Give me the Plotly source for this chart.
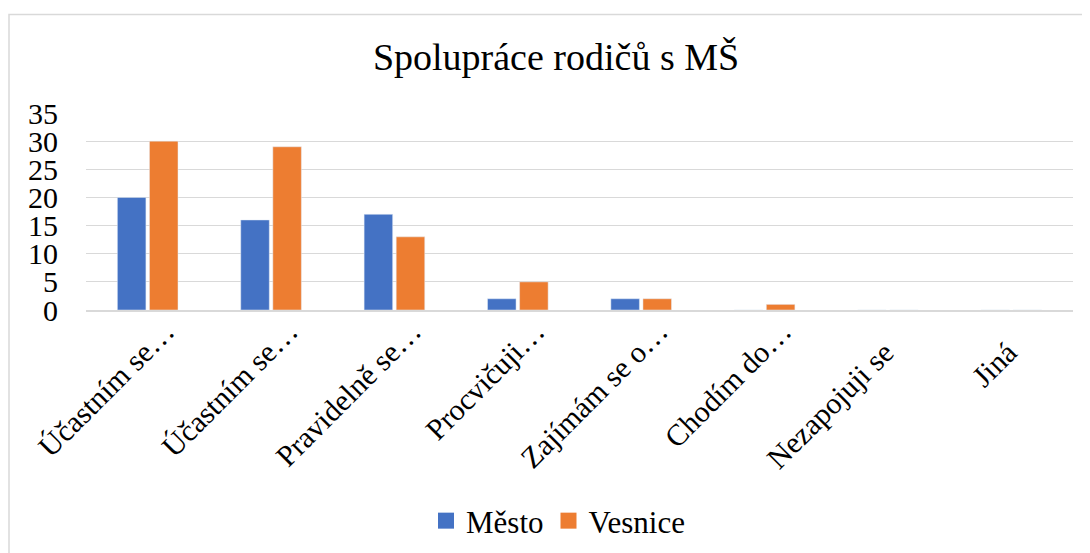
import plotly.graph_objects as go

categories = ["Účastním se…", "Účastním se…", "Pravidelně se…", "Procvičuji…",
              "Zajímám se o…", "Chodím do…", "Nezapojuji se", "Jiná"]
mesto = [20, 16, 17, 2, 2, 0, 0, 0]
vesnice = [30, 29, 13, 5, 2, 1, 0, 0]
y_ticks = [0, 5, 10, 15, 20, 25, 30, 35]
series_names = ["Město", "Vesnice"]
colors = ["#4472C4", "#ED7D31"]

FONT = "Liberation Serif"
NBSP = "\u00a0"

# numeric positions so duplicate labels stay separate categories
xpos = list(range(len(categories)))
# Excel centres the rotated labels in a fixed-length box: pad the un-truncated ones
ticktext = [c if c.endswith("…") else c + NBSP * 4 for c in categories]

fig = go.Figure()
for name, vals, col in zip(series_names, [mesto, vesnice], colors):
    fig.add_trace(go.Bar(name=name, x=xpos, y=vals, marker_color=col,
                         showlegend=False, legendgroup=name))
for name, col in zip(series_names, colors):
    fig.add_trace(go.Scatter(name=name, x=[None], y=[None], mode="markers",
                             marker=dict(symbol="square", size=16, color=col),
                             legendgroup=name, showlegend=True))

OFF = 8
W, H = 1090 - OFF, 553 - OFF
L, T = 86 - OFF, 113 - OFF
PR, PB = 1073 - OFF, 310 - OFF
R, B = W - PR, H - PB
ph = PB - T
pw = PR - L

def px(xw):
    return (xw - OFF - L) / pw

def py(yw):
    return (PB - (yw - OFF)) / ph

fig.update_layout(
    width=W, height=H,
    margin=dict(l=L, r=R, t=T, b=B, autoexpand=False),
    paper_bgcolor="white", plot_bgcolor="white",
    font=dict(family=FONT, color="black", size=30),
    barmode="group", bargap=0.48, bargroupgap=0.11,
    title=dict(text="Spolupráce rodičů s MŠ", font=dict(size=38, family=FONT),
               x=(556 - OFF) / W, xanchor="center", y=1 - (57 - OFF) / H, yanchor="middle"),
    legend=dict(orientation="h", x=px(558), xanchor="center", y=py(521), yanchor="middle",
                font=dict(size=31, family=FONT), traceorder="normal", itemwidth=30),
    showlegend=True,
    shapes=[dict(type="rect", xref="paper", yref="paper",
                 x0=px(9), x1=px(1110),
                 y0=py(580), y1=py(14.5),
                 line=dict(color="#d9d9d9", width=1.5), fillcolor="rgba(0,0,0,0)", layer="below")],
)
fig.update_xaxes(type="linear", range=[-0.5, len(categories) - 0.5],
                 tickvals=xpos, ticktext=ticktext,
                 showline=True, linecolor="#d9d9d9", linewidth=1.5, showgrid=False,
                 zeroline=False, tickangle=-45, tickfont=dict(size=30, family=FONT),
                 automargin=False, ticks="", ticklabelshift=18, ticklabelstandoff=-10)
fig.update_yaxes(range=[0, 35], tickvals=y_ticks, showgrid=True, gridcolor="#d9d9d9",
                 gridwidth=1.2, zeroline=False, showline=False, ticks="",
                 tickfont=dict(size=30, family=FONT), automargin=False,
                 ticklabelstandoff=27)

fig.write_html("out.html")
